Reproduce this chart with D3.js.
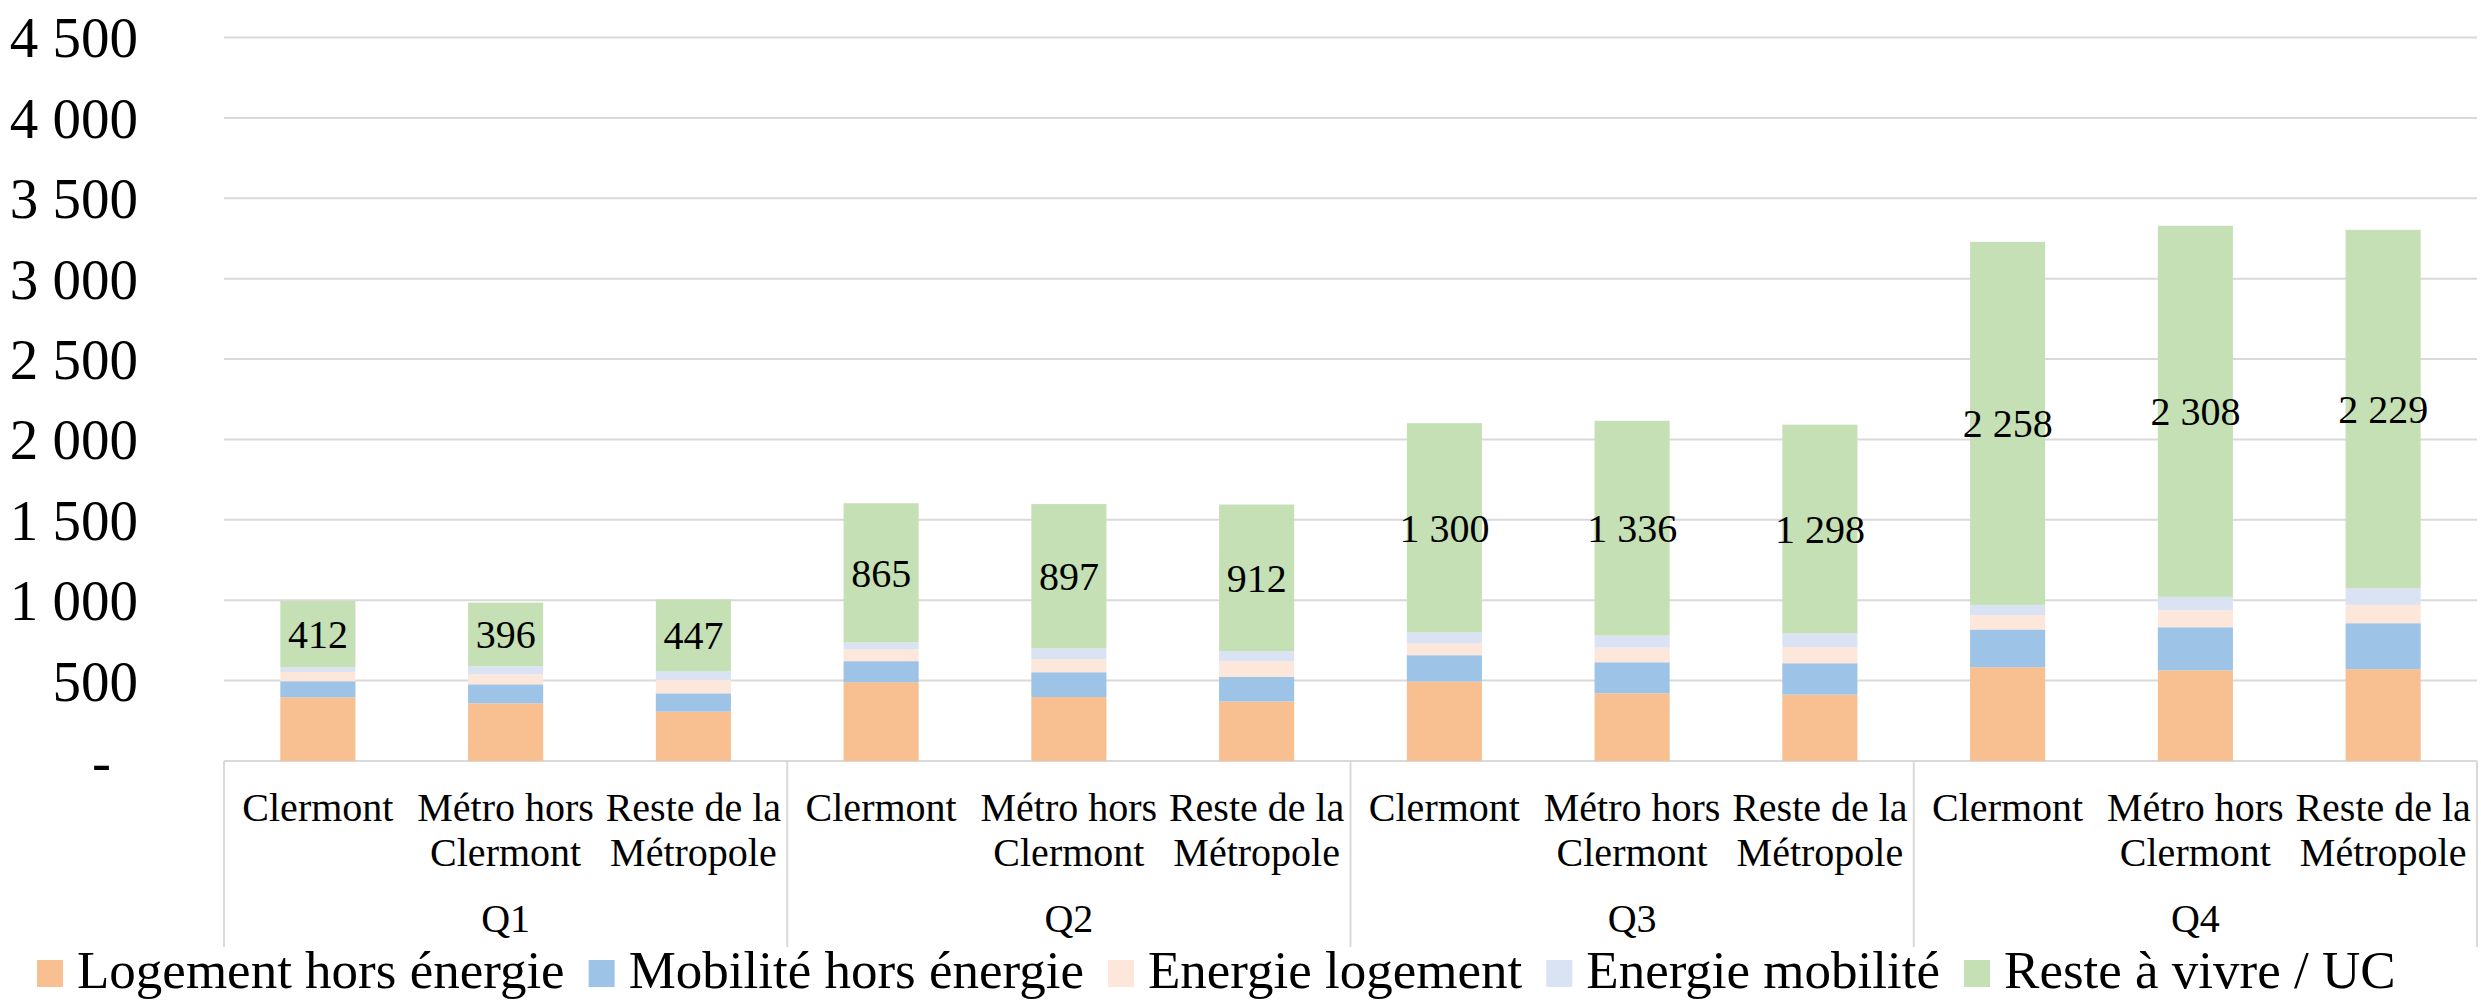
<!DOCTYPE html>
<html>
<head>
<meta charset="utf-8">
<script src="https://cdn.jsdelivr.net/npm/d3@7"></script>
<style>
  body { margin: 0; background: #fff; }
  svg text { font-family: "Liberation Serif", "Times New Roman", serif; fill: #000; }
</style>
</head>
<body>
<svg id="chart" width="2481" height="1000"></svg>
<script>
// groups and sub-categories
const quartiles = ['Q1', 'Q2', 'Q3', 'Q4'];
const zones = [['Clermont'], ['Métro hors', 'Clermont'], ['Reste de la', 'Métropole']];

// series (one value per bar, Q1..Q4 x 3 zones)
const seriesNames = ['Logement hors énergie', 'Mobilité hors énergie', 'Energie logement', 'Energie mobilité', 'Reste à vivre / UC'];
const logementHorsEnergie = [396, 359, 307, 490, 398, 370, 494, 421, 413, 583, 564, 571];
const mobiliteHorsEnergie = [100, 118, 114, 131, 154, 153, 164, 193, 195, 235, 268, 286];
const energieLogement = [58, 62, 83, 73, 81, 98, 73, 91, 101, 89, 106, 114];
const energieMobilite = [29, 50, 54, 44, 68, 62, 70, 75, 85, 64, 83, 104];
const resteAVivre = [412, 396, 447, 865, 897, 912, 1300, 1336, 1298, 2258, 2308, 2229];

const yTicks = [0, 500, 1000, 1500, 2000, 2500, 3000, 3500, 4000, 4500];
const colors = ['#F8BF90', '#9DC3E6', '#FCE7DA', '#DAE3F3', '#C5E0B4'];

const plot = { left: 224, right: 2477, top: 37.5, bottom: 761 };
const svg = d3.select('#chart');

const keys = ['s0', 's1', 's2', 's3', 's4'];
const allSeries = [logementHorsEnergie, mobiliteHorsEnergie, energieLogement, energieMobilite, resteAVivre];
const rows = [];
quartiles.forEach((q, qi) => {
    zones.forEach((z, zi) => {
        const i = qi * zones.length + zi;
        const r = { id: q + '|' + zi, q: q, zone: z };
        keys.forEach((k, s) => r[k] = allSeries[s][i]);
        rows.push(r);
    });
});

const x = d3.scaleBand()
    .domain(rows.map(d => d.id))
    .range([plot.left, plot.right])
    .paddingInner(0.6)
    .paddingOuter(0.3);
const y = d3.scaleLinear().domain([0, 4500]).range([plot.bottom, plot.top]);

// gridlines
svg.append('g')
    .selectAll('line')
    .data(yTicks)
    .join('line')
    .attr('x1', plot.left)
    .attr('x2', plot.right)
    .attr('y1', d => y(d))
    .attr('y2', d => y(d))
    .attr('stroke', '#D9D9D9')
    .attr('stroke-width', 2);

// y axis labels
const fr = d3.formatLocale({ decimal: ',', thousands: ' ', grouping: [3], currency: ['', ''] });
const fmt = fr.format(',d');
const yAxis = svg.append('g')
    .attr('transform', 'translate(138,0)')
    .call(d3.axisLeft(y).tickValues(yTicks).tickSize(0).tickPadding(0).tickFormat(d => d === 0 ? '-' : fmt(d)));
yAxis.select('.domain').remove();
yAxis.selectAll('text')
    .attr('font-size', 57)
    .attr('font-family', '"Liberation Serif", "Times New Roman", serif')
    .attr('fill', '#000')
    .attr('dy', '0.34em')
    .attr('x', d => d === 0 ? -27 : 0);

// stacked bars
const stacked = d3.stack().keys(keys)(rows);
svg.append('g')
    .selectAll('g')
    .data(stacked)
    .join('g')
    .attr('fill', (d, i) => colors[i])
    .selectAll('rect')
    .data(d => d)
    .join('rect')
    .attr('x', d => x(d.data.id))
    .attr('width', x.bandwidth())
    .attr('y', d => y(d[1]))
    .attr('height', d => y(d[0]) - y(d[1]));

// labels on "Reste à vivre"
const resteLayer = stacked[stacked.length - 1];
svg.append('g')
    .selectAll('text')
    .data(resteLayer)
    .join('text')
    .attr('x', d => x(d.data.id) + x.bandwidth() / 2)
    .attr('y', d => (y(d[0]) + y(d[1])) / 2)
    .attr('dy', '0.35em')
    .attr('text-anchor', 'middle')
    .attr('font-size', 40)
    .text(d => fmt(d.data.s4));

// category axis frame
const groupW = (plot.right - plot.left) / quartiles.length;
svg.append('g')
    .selectAll('line')
    .data(d3.range(quartiles.length + 1))
    .join('line')
    .attr('x1', i => plot.left + i * groupW)
    .attr('x2', i => plot.left + i * groupW)
    .attr('y1', plot.bottom)
    .attr('y2', 947)
    .attr('stroke', '#D9D9D9')
    .attr('stroke-width', 2);

// sub-category labels
const cat = svg.append('g')
    .selectAll('text')
    .data(rows)
    .join('text')
    .attr('x', d => x(d.id) + x.bandwidth() / 2)
    .attr('y', 821)
    .attr('text-anchor', 'middle')
    .attr('font-size', 40);
cat.selectAll('tspan')
    .data(d => d.zone)
    .join('tspan')
    .attr('x', function () { return d3.select(this.parentNode).attr('x'); })
    .attr('dy', (d, i) => i ? 45 : 0)
    .text(d => d);

// quartile labels
svg.append('g')
    .selectAll('text')
    .data(quartiles)
    .join('text')
    .attr('x', (d, i) => plot.left + (i + 0.5) * groupW)
    .attr('y', 932)
    .attr('text-anchor', 'middle')
    .attr('font-size', 40)
    .text(d => d);

// legend
const legend = svg.append('g');
let lx = 37;
seriesNames.forEach((name, i) => {
    legend.append('rect')
        .attr('x', lx)
        .attr('y', 960)
        .attr('width', 26)
        .attr('height', 27)
        .attr('fill', colors[i]);
    lx += 26 + 14;
    const t = legend.append('text')
        .attr('x', lx)
        .attr('y', 988)
        .attr('font-size', 53)
        .text(name);
    lx += t.node().getComputedTextLength() + 24;
});
</script>
</body>
</html>
